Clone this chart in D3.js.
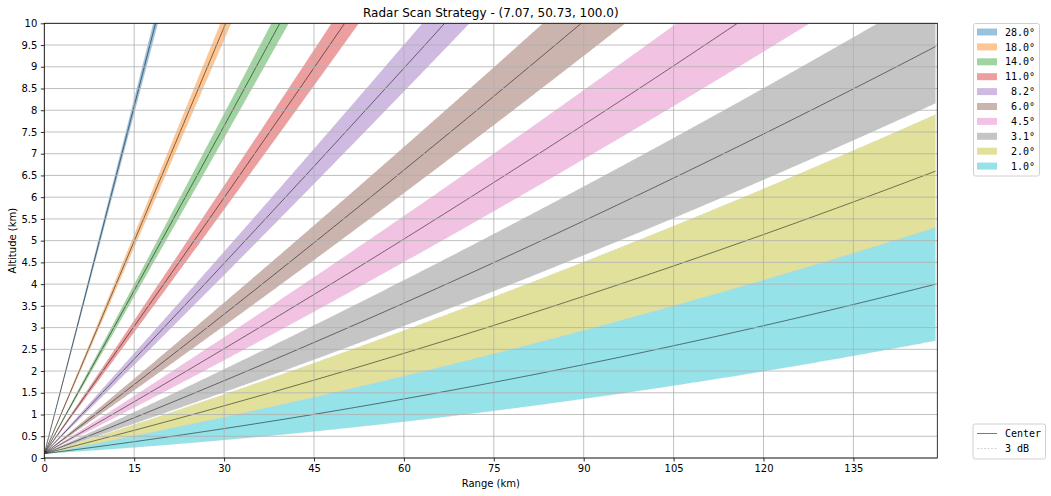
<!DOCTYPE html>
<html><head><meta charset="utf-8">
<script src="https://cdn.jsdelivr.net/npm/d3@7"></script>
<style>
body{margin:0;background:#fff;}
svg text{font-family:"DejaVu Sans",sans-serif;}
.mono{font-family:"DejaVu Sans Mono",monospace;white-space:pre;}
</style></head>
<body>
<svg id="c" width="1051" height="496"></svg>
<script>
// ---- data ----
const elevations = [28.0, 18.0, 14.0, 11.0, 8.2, 6.0, 4.5, 3.1, 2.0, 1.0]; // degrees
const beamWidth = 1.0;           // degrees (3 dB)
const radarSite = [7.07, 50.73, 100.0]; // lon, lat, altitude (m)
const maxRange = 148.7;          // km (ground distance)
const xTicks = [0, 15, 30, 45, 60, 75, 90, 105, 120, 135];
const yTicks = [0, 0.5, 1, 1.5, 2, 2.5, 3, 3.5, 4, 4.5, 5, 5.5, 6, 6.5, 7, 7.5, 8, 8.5, 9, 9.5, 10];
const fillColors = ["#1f77b4","#ff7f0e","#2ca02c","#d62728","#9467bd","#8c564b","#e377c2","#7f7f7f","#bcbd22","#17becf"];

const svg = d3.select("#c");
const L = 44.3, R = 937.3, T = 23.3, B = 458;
const x = d3.scaleLinear().domain([0, 149]).range([L, R]);
const y = d3.scaleLinear().domain([0, 10]).range([B, T]);

const Re = 6371 * 4 / 3;
const h0 = radarSite[2] / 1000;
function beamHeight(s, elevDeg) {
  const th = elevDeg * Math.PI / 180;
  const c = Math.cos(th + s / Re);
  if (c <= 0.01) return 100;
  return (Re + h0) * Math.cos(th) / c - Re;
}
const ranges = d3.range(0, maxRange, 0.25).concat([maxRange]);

svg.append("defs").append("clipPath").attr("id", "clip")
  .append("rect").attr("x", L).attr("y", T).attr("width", R - L).attr("height", B - T);

const plot = svg.append("g").attr("clip-path", "url(#clip)");

// fills
const area = d3.area().x(d => x(d.s)).y0(d => y(d.lo)).y1(d => y(d.hi));
elevations.forEach((e, i) => {
  const pts = ranges.map(s => ({s, lo: beamHeight(s, e - beamWidth / 2), hi: Math.min(beamHeight(s, e + beamWidth / 2), 12)}));
  plot.append("path").attr("d", area(pts)).attr("fill", fillColors[i]).attr("fill-opacity", 0.45);
});

// grid
const grid = svg.append("g");
xTicks.forEach(t => grid.append("line").attr("x1", x(t)).attr("x2", x(t)).attr("y1", T).attr("y2", B)
  .attr("stroke", "#b0b0b0").attr("stroke-width", 0.8));
yTicks.forEach(t => grid.append("line").attr("x1", L).attr("x2", R).attr("y1", y(t)).attr("y2", y(t))
  .attr("stroke", "#b0b0b0").attr("stroke-width", 0.8));

// lines
const line = d3.line().x(d => x(d[0])).y(d => y(d[1]));
elevations.forEach((e, i) => {
  [e - beamWidth / 2, e + beamWidth / 2].forEach(a => {
    const pts = ranges.map(s => [s, Math.min(beamHeight(s, a), 12)]);
    plot.append("path").attr("d", line(pts)).attr("fill", "none")
      .attr("stroke", "#c8c8c8").attr("stroke-width", 0.5).attr("stroke-dasharray", "2,1.5").attr("stroke-opacity", 0.6);
  });
  const pts = ranges.map(s => [s, Math.min(beamHeight(s, e), 12)]);
  plot.append("path").attr("d", line(pts)).attr("fill", "none")
    .attr("stroke", "#000").attr("stroke-opacity", 0.75).attr("stroke-width", 0.7);
});

// axes
const xAxis = d3.axisBottom(x).tickValues(xTicks).tickSize(3.5).tickPadding(3.5).tickFormat(d3.format("d"));
const yAxis = d3.axisLeft(y).tickValues(yTicks).tickSize(3.5).tickPadding(3.5).tickFormat(d => String(d));
const gx = svg.append("g").attr("transform", `translate(0,${B})`).call(xAxis);
const gy = svg.append("g").attr("transform", `translate(${L},0)`).call(yAxis);
[gx, gy].forEach(g => {
  g.select(".domain").remove();
  g.selectAll("text").attr("font-size", 10).attr("fill", "#000").style("font-family", "DejaVu Sans");
  g.selectAll("line").attr("stroke", "#000").attr("stroke-width", 0.8);
});
svg.append("rect").attr("x", L).attr("y", T).attr("width", R - L).attr("height", B - T)
  .attr("fill", "none").attr("stroke", "#000").attr("stroke-width", 0.8);

// labels
svg.append("text").attr("x", (L + R) / 2).attr("y", 17).attr("text-anchor", "middle").attr("font-size", 12)
  .text(`Radar Scan Strategy - (${radarSite[0].toFixed(2)}, ${radarSite[1].toFixed(2)}, ${radarSite[2].toFixed(1)})`);
svg.append("text").attr("x", (L + R) / 2).attr("y", 487).attr("text-anchor", "middle").attr("font-size", 10).text("Range (km)");
svg.append("text").attr("transform", `translate(16,${(T + B) / 2}) rotate(-90)`).attr("text-anchor", "middle")
  .attr("font-size", 10).text("Altitude (km)");

// legend 1
const lg = svg.append("g");
lg.append("rect").attr("x", 973.5).attr("y", 23.5).attr("width", 66).attr("height", 152.5).attr("rx", 2)
  .attr("fill", "#fff").attr("stroke", "#d0d0d0").attr("stroke-width", 1);
elevations.forEach((e, i) => {
  const cy = 32 + i * 14.9;
  lg.append("rect").attr("x", 977).attr("y", cy - 3.5).attr("width", 20).attr("height", 7)
    .attr("fill", fillColors[i]).attr("fill-opacity", 0.45);
  const lbl = e.toFixed(1).padStart(4, " ") + "°";
  lg.append("text").attr("class", "mono").attr("x", 1005).attr("y", cy + 3.6).attr("font-size", 10)
    .attr("xml:space", "preserve").text(lbl);
});

// legend 2
const lg2 = svg.append("g");
lg2.append("rect").attr("x", 973).attr("y", 424).attr("width", 72.5).attr("height", 35).attr("rx", 2)
  .attr("fill", "#fff").attr("stroke", "#d0d0d0").attr("stroke-width", 1);
lg2.append("line").attr("x1", 977).attr("x2", 997).attr("y1", 433.5).attr("y2", 433.5)
  .attr("stroke", "#000").attr("stroke-opacity", 0.75).attr("stroke-width", 0.7);
lg2.append("line").attr("x1", 977).attr("x2", 997).attr("y1", 448.5).attr("y2", 448.5)
  .attr("stroke", "#b8b8b8").attr("stroke-width", 0.6).attr("stroke-dasharray", "2,1.5");
lg2.append("text").attr("class", "mono").attr("x", 1005).attr("y", 437).attr("font-size", 10).text("Center");
lg2.append("text").attr("class", "mono").attr("x", 1005).attr("y", 452).attr("font-size", 10).text("3 dB");
</script>
</body></html>
